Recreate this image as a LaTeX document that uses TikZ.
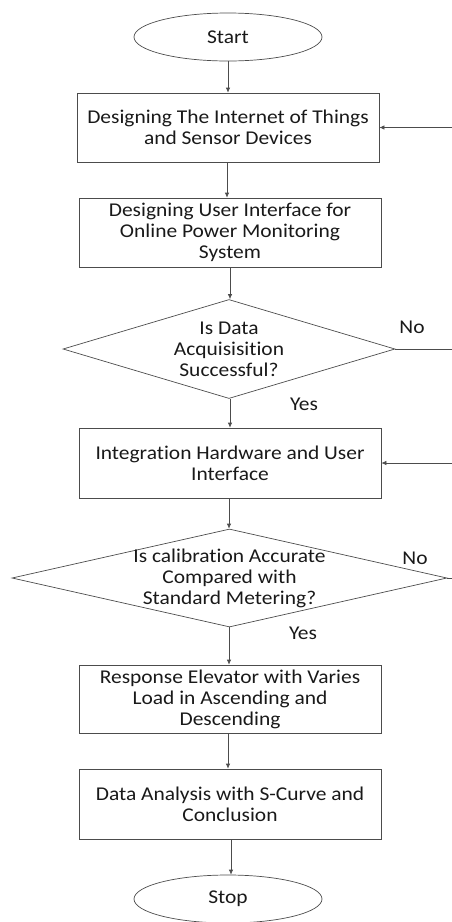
\documentclass[tikz,border=0pt]{standalone}
\usepackage{fontspec}
\setmainfont{Carlito}[FakeStretch=1.1,Ligatures=NoCommon]
\usetikzlibrary{shapes.geometric,arrows.meta}
\begin{document}
\begin{tikzpicture}[x=1pt,y=-1pt,
  line/.style={draw=black!70,line width=0.7pt},
  arr/.style={line,-{Latex[length=5pt,width=4.5pt]}},
  txt/.style={font=\fontsize{19.5}{21}\selectfont,text=black!90},
  procbox/.style={line,txt,rectangle,minimum width=302pt,inner sep=0pt,align=center},
  term/.style={line,txt,ellipse,minimum width=188pt,minimum height=48pt,inner sep=0pt},
  decide/.style={line,diamond,inner sep=0pt},
  dtext/.style={txt,align=center},
  lbl/.style={txt,inner sep=0pt}]
\useasboundingbox (0,0) rectangle (452,922);
\node[term] (start) at (228,37) {Start};
\node[procbox,minimum height=69pt] (b1) at (228,127.5) {Designing The Internet of Things\\and Sensor Devices};
\node[procbox,minimum height=69pt] (b2) at (230,232.5) {Designing User Interface for\\Online Power Monitoring\\System};
\node[decide,minimum width=332pt,minimum height=99pt] (d1) at (229,349) {};
\node[dtext] (d1t) at (d1.center) {Is Data\\Acquisisition\\Successful?};
\node[procbox,minimum height=70pt] (b3) at (230,463) {Integration Hardware and User\\Interface};
\node[decide,minimum width=435pt,minimum height=98pt] (d2) at (229.5,578) {};
\node[dtext] (d2t) at (d2.center) {Is calibration Accurate\\Compared with\\Standard Metering?};
\node[procbox,minimum height=68pt] (b4) at (230,699) {Response Elevator with Varies\\Load in Ascending and\\Descending};
\node[procbox,minimum height=70pt] (b5) at (230,804) {Data Analysis with S-Curve and\\Conclusion};
\node[term] (stop) at (228,899) {Stop};
% vertical flow
\draw[arr] (start.south) -- (start.south |- b1.north);
\draw[arr] (b1.south -| 227,0) -- (227,0 |- b2.north);
\draw[arr] (b2.south -| 230,0) -- (230,0 |- d1.north);
\draw[arr] (d1.south -| 230,0) -- (230,0 |- b3.north);
\draw[arr] (b3.south -| 229,0) -- (229,0 |- d2.north);
\draw[arr] (d2.south -| 229,0) -- (229,0 |- b4.north);
\draw[arr] (b4.south -| 228,0) -- (228,0 |- b5.north);
\draw[arr] (b5.south -| 231,0) -- (231,0 |- stop.north);
% feedback lines (off the right edge)
\coordinate (r1) at (452,127.5);
\coordinate (r2) at (452,349);
\coordinate (r3) at (452,463);
\coordinate (r4) at (452,578);
\draw[arr] (r1) -- (b1.east);
\draw[line] (d1.east) -- (r2);
\draw[arr] (r3) -- (b3.east);
\draw[line] (d2.east) -- (r4);
% labels
\node[lbl] (no1) at (412,327) {No};
\node[lbl] (yes1) at (304,404) {Yes};
\node[lbl] (no2) at (415,558) {No};
\node[lbl] (yes2) at (303,633) {Yes};
\end{tikzpicture}
\end{document}
